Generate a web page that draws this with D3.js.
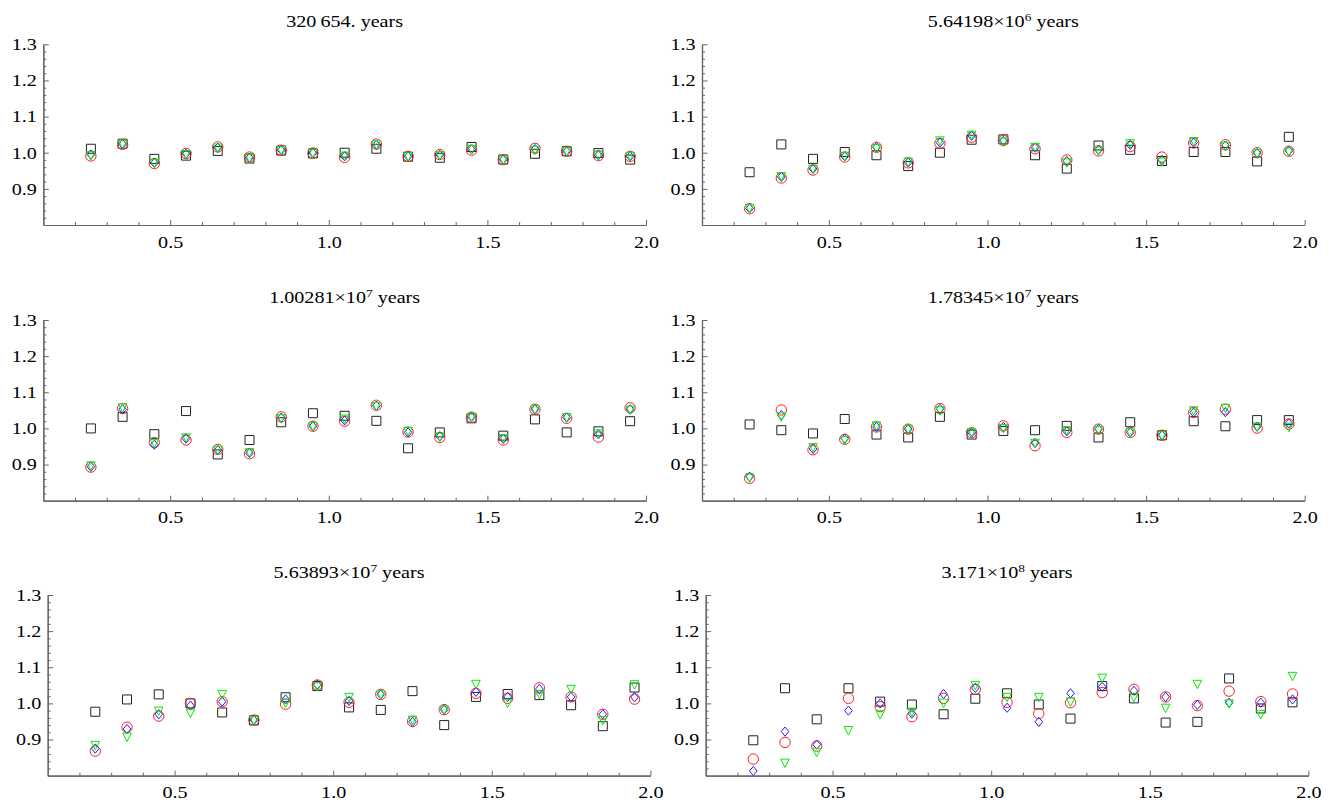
<!DOCTYPE html>
<html>
<head>
<meta charset="utf-8">
<script src="https://cdn.jsdelivr.net/npm/d3@7"></script>
<style>
  body { margin: 0; background: #fff; }
  svg text { font-family: "Liberation Serif", "Times New Roman", Times, "DejaVu Serif", serif; fill: #000; }
</style>
</head>
<body>
<div id="chart"></div>
<script>
// x positions shared by every panel
var xVals = [0.25, 0.35, 0.45, 0.55, 0.65, 0.75, 0.85, 0.95, 1.05, 1.15, 1.25, 1.35, 1.45, 1.55, 1.65, 1.75, 1.85, 1.95];

// panel titles: mantissa, exponent ("" if none)
var titleMain = ["320\u2009654.", "5.64198\u00d710", "1.00281\u00d710", "1.78345\u00d710", "5.63893\u00d710", "3.171\u00d710"];
var titleExp = ["", "6", "7", "7", "7", "8"];

var yTicks = [0.9, 1.0, 1.1, 1.2, 1.3];
var xTicks = [0.5, 1.0, 1.5, 2.0];

// black squares, one row per panel
var squares = [
  [1.011, 1.025, 0.983, 0.992, 1.005, 0.984, 1.006, 0.998, 1.000, 1.011, 0.989, 0.986, 1.016, 0.981, 0.997, 1.004, 0.999, 0.981],
  [0.946, 1.023, 0.983, 1.002, 0.993, 0.963, 1.000, 1.036, 1.037, 0.993, 0.956, 1.020, 1.008, 0.977, 1.002, 1.002, 0.976, 1.044],
  [1.000, 1.032, 0.984, 1.048, 0.928, 0.968, 1.017, 1.042, 1.035, 1.021, 0.945, 0.989, 1.028, 0.980, 1.025, 0.989, 0.992, 1.020],
  [1.011, 0.995, 0.986, 1.026, 0.983, 0.975, 1.032, 0.983, 0.993, 0.995, 1.007, 0.975, 1.017, 0.981, 1.020, 1.006, 1.023, 1.023],
  [0.977, 1.011, 1.025, 1.000, 0.975, 0.953, 1.017, 1.048, 0.989, 0.982, 1.034, 0.940, 1.018, 1.026, 1.023, 0.995, 0.937, 1.044],
  [0.898, 1.042, 0.956, 1.042, 1.005, 0.997, 0.970, 1.013, 1.028, 0.997, 0.958, 1.048, 1.014, 0.947, 0.949, 1.069, 0.986, 1.003]
];
// red circles
var circles = [
  [0.991, 1.023, 0.970, 0.998, 1.016, 0.988, 1.007, 0.999, 0.987, 1.024, 0.990, 0.995, 1.007, 0.981, 1.012, 1.004, 0.992, 0.990],
  [0.845, 0.930, 0.952, 0.988, 1.015, 0.972, 1.026, 1.043, 1.034, 1.011, 0.980, 1.005, 1.017, 0.988, 1.027, 1.022, 1.000, 1.004],
  [0.893, 1.055, 0.961, 0.968, 0.942, 0.930, 1.032, 1.006, 1.020, 1.064, 0.990, 0.975, 1.031, 0.968, 1.053, 1.028, 0.976, 1.057],
  [0.862, 1.051, 0.941, 0.970, 1.004, 0.998, 1.055, 0.988, 1.007, 0.952, 0.989, 0.998, 0.989, 0.981, 1.044, 1.053, 1.001, 1.012],
  [0.868, 0.934, 0.965, 1.000, 1.005, 0.954, 0.998, 1.051, 1.003, 1.025, 0.950, 0.983, 1.028, 1.014, 1.043, 1.018, 0.970, 1.012],
  [0.846, 0.892, 0.882, 1.014, 0.991, 0.963, 1.014, 1.039, 1.003, 0.972, 1.002, 1.030, 1.039, 1.018, 0.994, 1.034, 1.005, 1.026]
];
// blue diamonds
var diamonds = [
  [0.995, 1.024, 0.972, 0.997, 1.014, 0.986, 1.007, 0.999, 0.990, 1.022, 0.990, 0.994, 1.009, 0.981, 1.010, 1.004, 0.993, 0.990],
  [0.846, 0.933, 0.955, 0.990, 1.015, 0.973, 1.028, 1.047, 1.033, 1.014, 0.977, 1.008, 1.022, 0.980, 1.028, 1.020, 0.999, 1.005],
  [0.894, 1.053, 0.955, 0.972, 0.940, 0.932, 1.030, 1.006, 1.022, 1.063, 0.989, 0.978, 1.032, 0.971, 1.053, 1.030, 0.984, 1.053],
  [0.866, 1.037, 0.943, 0.972, 1.004, 0.998, 1.054, 0.988, 1.004, 0.960, 0.992, 0.998, 0.989, 0.981, 1.044, 1.045, 1.005, 1.014],
  [0.875, 0.929, 0.970, 0.994, 1.005, 0.954, 1.011, 1.052, 1.007, 1.025, 0.949, 0.983, 1.032, 1.018, 1.040, 1.018, 0.970, 1.017],
  [0.813, 0.922, 0.886, 0.980, 1.000, 0.972, 1.026, 1.043, 0.988, 0.949, 1.028, 1.046, 1.035, 1.018, 0.996, 1.002, 1.002, 1.011]
];
// green down-triangles
var triangles = [
  [0.993, 1.025, 0.972, 0.996, 1.014, 0.986, 1.007, 0.999, 0.992, 1.023, 0.990, 0.993, 1.010, 0.981, 1.008, 1.004, 0.994, 0.991],
  [0.847, 0.935, 0.956, 0.991, 1.013, 0.975, 1.034, 1.050, 1.031, 1.016, 0.973, 1.006, 1.026, 0.975, 1.032, 1.019, 0.998, 1.003],
  [0.897, 1.058, 0.960, 0.975, 0.941, 0.934, 1.028, 1.006, 1.027, 1.062, 0.993, 0.977, 1.032, 0.973, 1.053, 1.031, 0.986, 1.052],
  [0.864, 1.033, 0.948, 0.968, 1.008, 0.998, 1.050, 0.990, 1.001, 0.960, 0.995, 0.996, 0.989, 0.981, 1.050, 1.057, 1.005, 1.004],
  [0.885, 0.908, 0.980, 0.974, 1.026, 0.954, 1.002, 1.047, 1.018, 1.025, 0.955, 0.983, 1.054, 1.002, 1.026, 1.040, 0.954, 1.053],
  [0.770, 0.836, 0.866, 0.926, 0.970, 0.977, 1.002, 1.051, 1.018, 1.018, 1.005, 1.071, 1.018, 0.988, 1.054, 1.000, 0.970, 1.076]
];

var width = 1332, height = 804;
var plotW = 602.7, plotH = 180.7;
var colLeft = [[43.3, 702], [43.3, 702], [47.7, 705.7]];
var rowTop = [44.3, 320, 595];
var stretch = "scale(1.22,1)";   // reference text is drawn a bit wide
var axisColor = "#666";
var serif = "'Liberation Serif', 'Times New Roman', Times, serif";

var svg = d3.select("#chart").append("svg")
  .attr("width", width)
  .attr("height", height)
  .attr("font-family", serif);

// marker shapes, centred on 0,0
var markers = [
  { data: squares, color: "#222", path: "M-4.5,-4.5H4.5V4.5H-4.5Z" },
  { data: circles, color: "#ff2020", path: d3.arc()({ innerRadius: 0, outerRadius: 5.2, startAngle: 0, endAngle: 2 * Math.PI }) },
  { data: diamonds, color: "#2020ff", path: "M0,-4.6L3.8,0L0,4.6L-3.8,0Z" },
  { data: triangles, color: "#00ee00", path: "M-4.3,-3.6L4.3,-3.6L0,4.8Z" }
];

function drawPanel(p) {
  var row = Math.floor(p / 2), col = p % 2;
  var left = colLeft[row][col], top = rowTop[row];

  var xScale = d3.scaleLinear().domain([0.1, 2.0]).range([0, plotW]);
  var yScale = d3.scaleLinear().domain([0.8, 1.3]).range([plotH, 0]);

  var g = svg.append("g")
    .attr("transform", "translate(" + left + "," + top + ")");

  // clip so out-of-range points vanish like in the original
  g.append("clipPath").attr("id", "clip" + p)
    .append("rect")
    .attr("x", -8).attr("y", -8)
    .attr("width", plotW + 16).attr("height", plotH + 8);

  // minor ticks
  var yMinor = d3.range(0.82, 1.3, 0.02).filter(function (v) { return Math.abs(v * 10 - Math.round(v * 10)) > 0.01; });
  var xMinor = d3.range(0.2, 2.0, 0.1).filter(function (v) { return Math.abs(v * 2 - Math.round(v * 2)) > 0.01; });

  g.append("g")
    .call(d3.axisLeft(yScale).tickValues(yMinor).tickSizeInner(-3).tickSizeOuter(0).tickFormat(""))
    .call(styleAxis);
  g.append("g")
    .attr("transform", "translate(0," + plotH + ")")
    .call(d3.axisBottom(xScale).tickValues(xMinor).tickSizeInner(-3).tickSizeOuter(0).tickFormat(""))
    .call(styleAxis);

  // major ticks with labels
  var yAxis = g.append("g")
    .call(d3.axisLeft(yScale).tickValues(yTicks).tickSizeInner(-5.5).tickSizeOuter(0).tickPadding(5.3).tickFormat(d3.format(".1f")))
    .call(styleAxis);
  var xAxis = g.append("g")
    .attr("transform", "translate(0," + plotH + ")")
    .call(d3.axisBottom(xScale).tickValues(xTicks).tickSizeInner(-5).tickSizeOuter(0).tickPadding(11).tickFormat(d3.format(".1f")))
    .call(styleAxis);

  yAxis.selectAll("text").attr("transform", stretch);
  xAxis.selectAll("text").attr("transform", stretch);

  // title
  var t = svg.append("text")
    .attr("transform", "translate(" + (left + plotW / 2) + "," + (top - 17.5) + ") " + stretch)
    .attr("text-anchor", "middle")
    .style("font-family", serif)
    .style("font-size", "16.5px");
  t.append("tspan").text(titleMain[p]);
  if (titleExp[p] !== "") {
    t.append("tspan").attr("dy", -6).style("font-size", "11px").text(titleExp[p]);
    t.append("tspan").attr("dy", 6).text(" years");
  } else {
    t.append("tspan").text(" years");
  }

  // points
  var pts = g.append("g").attr("clip-path", "url(#clip" + p + ")");
  markers.forEach(function (m) {
    pts.append("g").selectAll("path")
      .data(m.data[p])
      .join("path")
      .attr("d", m.path)
      .attr("transform", function (d, i) { return "translate(" + xScale(xVals[i]) + "," + yScale(d) + ")"; })
      .attr("fill", "none")
      .attr("stroke", m.color)
      .attr("stroke-width", 1);
  });
}

function styleAxis(sel) {
  sel.attr("font-family", serif);
  sel.select(".domain").attr("stroke", axisColor).attr("stroke-width", 1.2);
  sel.selectAll(".tick line").attr("stroke", axisColor);
  sel.selectAll("text")
    .style("font-family", serif)
    .style("font-size", "16.5px")
    .attr("fill", "#000");
}

for (var p = 0; p < 6; p++) {
  drawPanel(p);
}
</script>
</body>
</html>
